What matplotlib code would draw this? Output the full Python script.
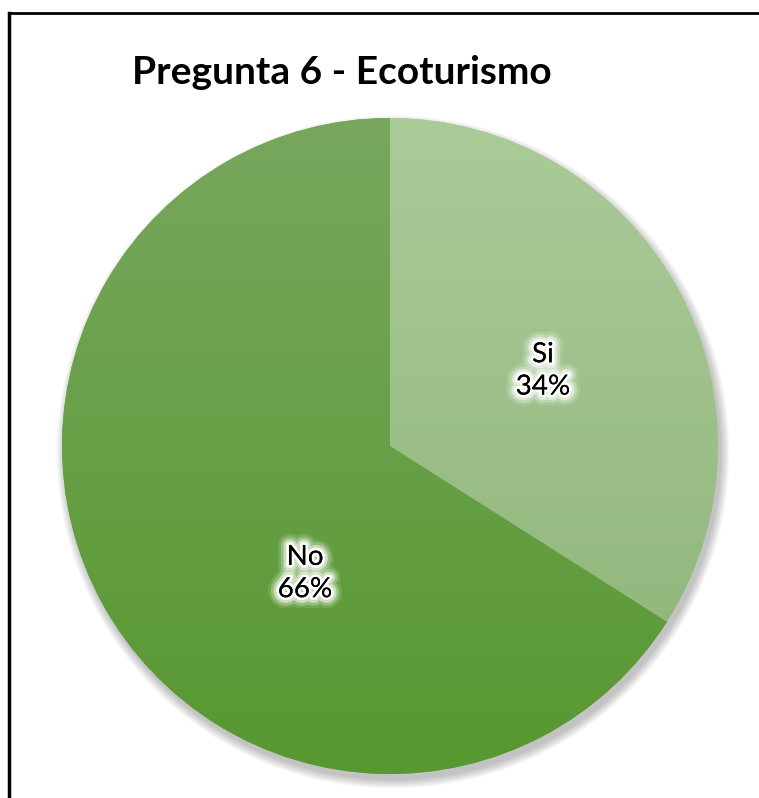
import matplotlib
matplotlib.use("Agg")
import matplotlib.pyplot as plt
import matplotlib.patheffects as pe
from matplotlib.patches import Circle
from matplotlib.colors import LinearSegmentedColormap
import numpy as np

# data
labels = ["Si", "No"]
values = [34, 66]
title = "Pregunta 6 - Ecoturismo"

# colours (top -> bottom gradient per slice)
grad_si = ["#abcb99", "#8cb376"]
grad_no = ["#78a75e", "#579830"]

W, H = 759, 798
fig = plt.figure(figsize=(W / 100, H / 100), dpi=100)
ax = fig.add_axes([0, 0, 1, 1])

cx, cy, r = 390, 446, 328

# soft shadow
for i in range(8):
    ax.add_patch(Circle((cx + 3, cy + 6), r + i * 1.2, color="black",
                        alpha=0.03, lw=0, zorder=1))

# y axis is flipped below, so counterclock in data = clockwise on screen
wedges, _ = ax.pie(values, center=(cx, cy), radius=r, startangle=-90,
                   counterclock=True, colors=[grad_si[0], grad_no[0]],
                   wedgeprops=dict(linewidth=0), frame=True)

# vertical gradients clipped to wedges
yy = np.linspace(0, 1, 256).reshape(-1, 1)
for w, g in zip(wedges, [grad_si, grad_no]):
    w.set_zorder(2)
    cmap = LinearSegmentedColormap.from_list("g", g)
    im = ax.imshow(yy, cmap=cmap, aspect="auto",
                   extent=(cx - r, cx + r, cy + r, cy - r), zorder=3)
    im.set_clip_path(w)
ax.set_xlim(0, W)
ax.set_ylim(H, 0)
ax.set_aspect("equal")
ax.axis("off")

glow = [pe.withStroke(linewidth=16, foreground="white", alpha=0.12),
        pe.withStroke(linewidth=12, foreground="white", alpha=0.25),
        pe.withStroke(linewidth=8, foreground="white", alpha=0.5),
        pe.withStroke(linewidth=4, foreground="white", alpha=1.0),
        pe.Normal()]

# slice labels (radius fraction, angle offset as Excel places them)
label_pos = [(0.52, 2.5), (0.466, -27.4)]
theta = -90
for w, lab, v, (frac, off) in zip(wedges, labels, values, label_pos):
    mid = np.deg2rad(theta + v * 3.6 / 2 + off)
    theta += v * 3.6
    tx = cx + frac * r * np.cos(mid)
    ty = cy + frac * r * np.sin(mid)
    ax.text(tx, ty, f"{lab}\n{v}%", ha="center", va="center", fontsize=20,
            family="Lato", linespacing=1.3, zorder=5, path_effects=glow)

ax.text(342, 72, title, ha="center", va="center", fontsize=28,
        fontweight="bold", family="Lato", zorder=5)

# frame lines (top and left only)
ax.plot([9, W], [13, 13], color="black", lw=2, zorder=6)
ax.plot([9, 9], [13, H], color="black", lw=2.5, zorder=6)

fig.savefig("out.png", dpi=100)
